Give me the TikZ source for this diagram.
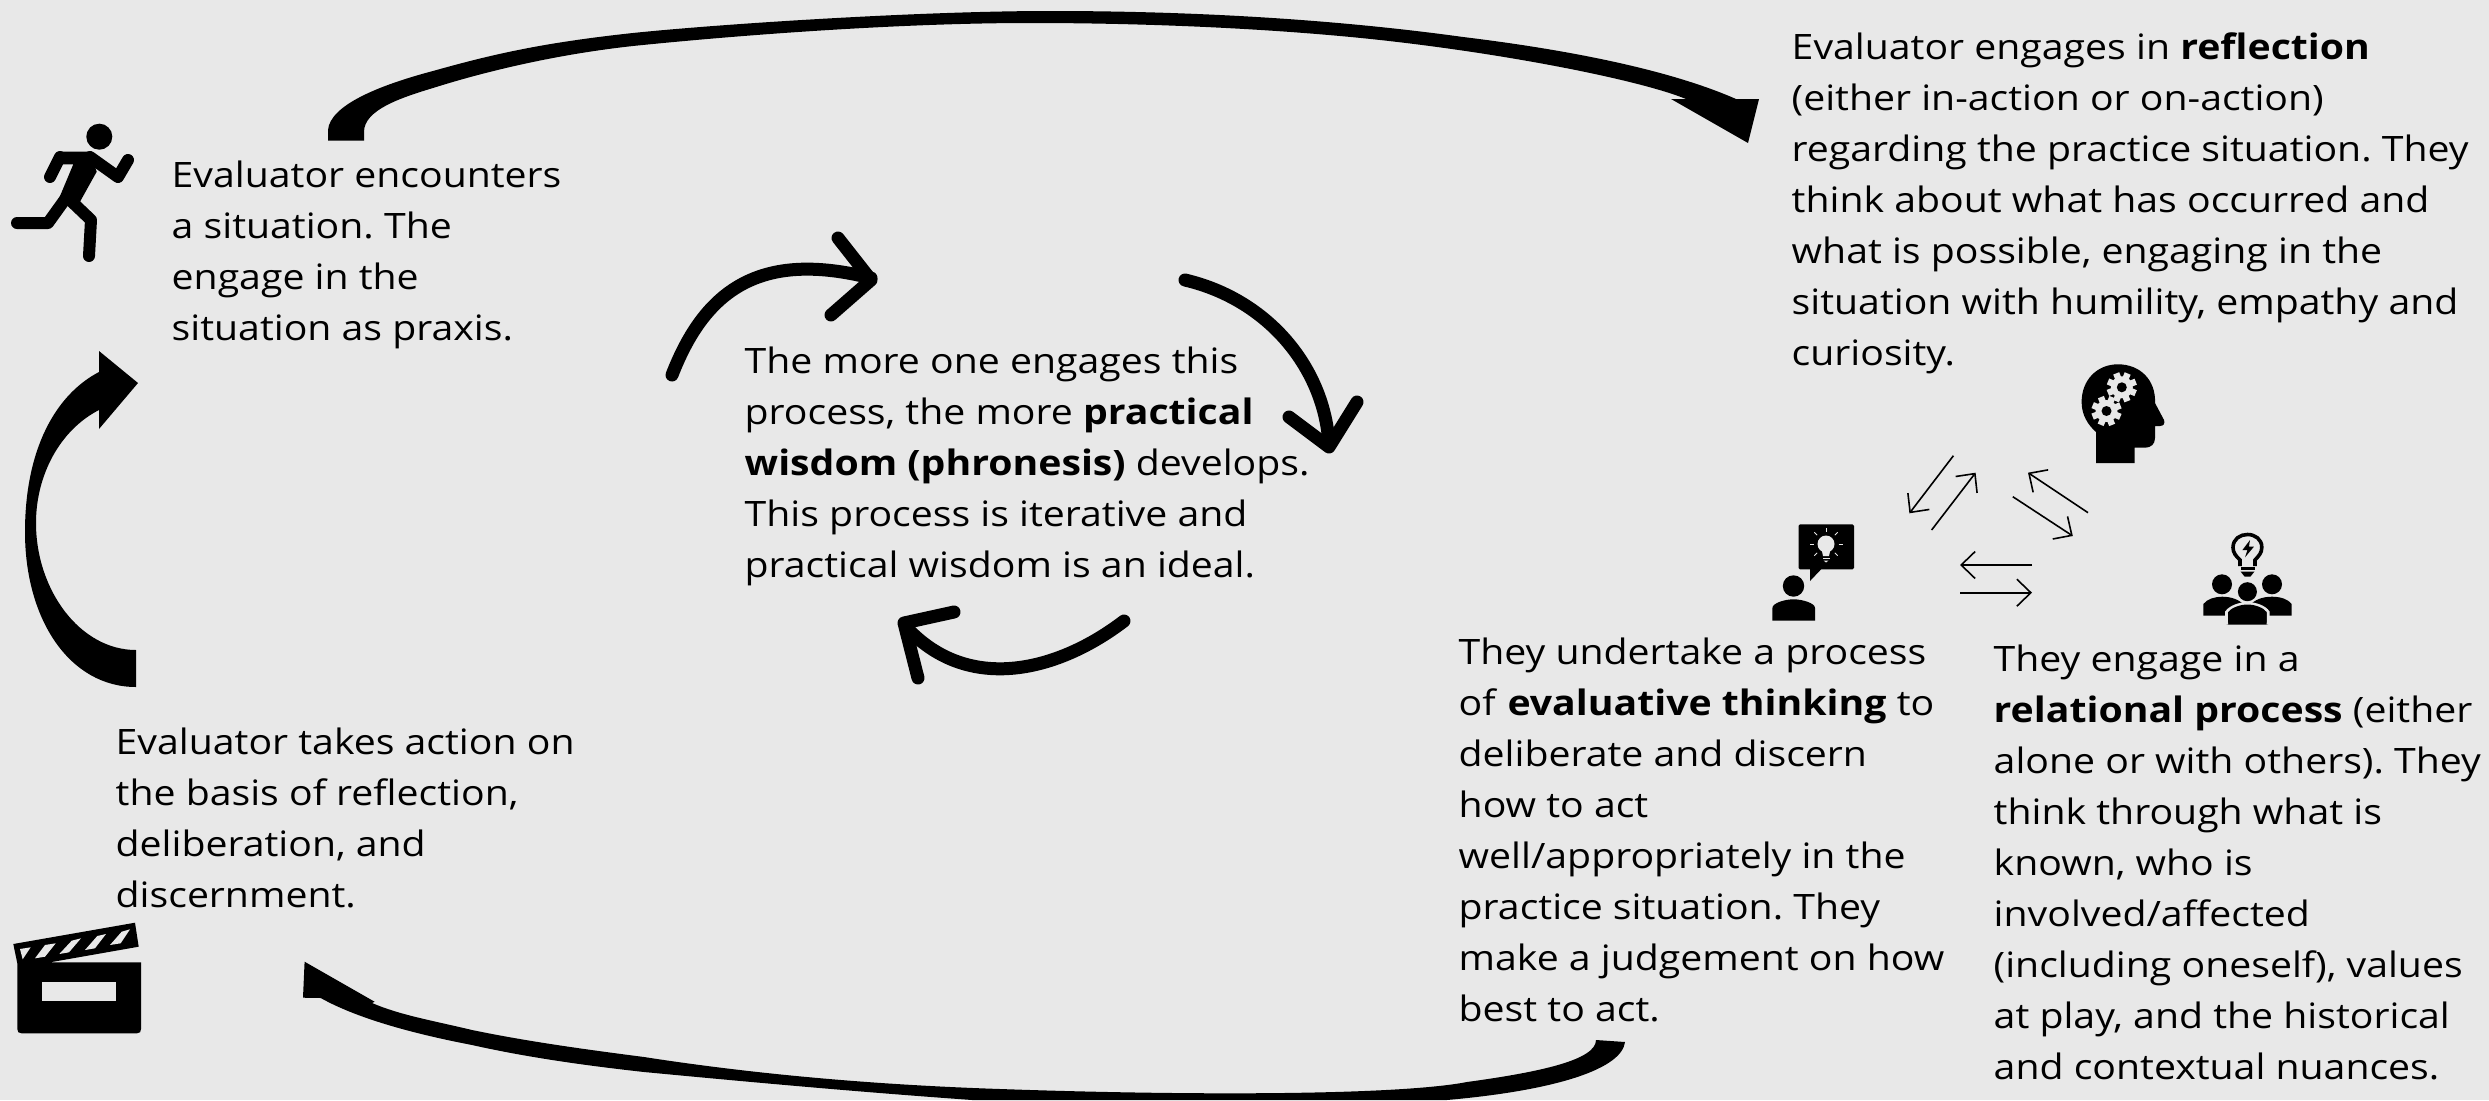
\documentclass[tikz,border=0pt]{standalone}
\usepackage{fontspec}
\usetikzlibrary{arrows.meta}
\setmainfont[FakeStretch=1.12]{Open Sans}
\definecolor{bgc}{HTML}{E8E8E8}
\tikzset{
  txt/.style={anchor=base west,inner sep=0pt,align=left,font=\fontsize{35}{51}\selectfont\frenchspacing},
  midarrow/.style={draw=black,line width=13pt,line cap=round,line join=round},
  thinarrow/.style={draw=black,line width=1.6pt,-{Straight Barb[length=14pt,width=27pt,line width=1.6pt]}},
  limb/.style={draw=black,line width=12pt,line cap=round,line join=round},
}
\newcommand{\gearicon}[2]{%
  \fill[bgc] (#1,#2) circle (11pt);
  \foreach \a in {0,45,...,315}{\fill[bgc,rotate around={\a+22:(#1,#2)}] (#1-3.2,#2-15) rectangle (#1+3.2,#2);}
  \fill[black] (#1,#2) circle (5pt);}
\begin{document}
\begin{tikzpicture}[x=1pt,y=-1pt]
\fill[bgc] (0,0) rectangle (2489,1100);
\useasboundingbox (0,0) rectangle (2489,1100);
% text
\node[txt] (encounter) at (171.5,340) {Evaluator encounters\\a situation. The\\engage in the\\situation as praxis.};
\node[txt] (action) at (115.5,907.5) {Evaluator takes action on\\the basis of reflection,\\deliberation, and\\discernment.};
\node[txt] (wisdom) at (744.5,577.5) {The more one engages this\\process, the more \textbf{practical}\\\textbf{wisdom (phronesis)} develops.\\This process is iterative and\\practical wisdom is an ideal.};
\node[txt] (reflect) at (1791.5,365.5) {Evaluator engages in \textbf{reflection}\\(either in-action or on-action)\\regarding the practice situation. They\\think about what has occurred and\\what is possible, engaging in the\\situation with humility, empathy and\\curiosity.};
\node[txt] (think) at (1458.5,1021) {They undertake a process\\of \textbf{evaluative thinking} to\\deliberate and discern\\how to act\\well/appropriately in the\\practice situation. They\\make a judgement on how\\best to act.};
\node[txt] (relate) at (1993.5,1079) {They engage in a\\\textbf{relational process} (either\\alone or with others). They\\think through what is\\known, who is\\involved/affected\\(including oneself), values\\at play, and the historical\\and contextual nuances.};
% top arrow
\fill[black] (328,140.5) -- (328,130) .. controls (330,105) and (380,85) .. (433,71)
  .. controls (490,55) and (540,43) .. (633,33)
  .. controls (720,24) and (920,11) .. (1050,11)
  .. controls (1200,11) and (1340,20) .. (1463,37)
  .. controls (1570,50) and (1670,70) .. (1736,99)
  -- (1759,99) -- (1748,143) -- (1671,99) -- (1686,99)
  .. controls (1640,80) and (1500,52) .. (1361,38)
  .. controls (1250,27) and (1130,23) .. (1030,23)
  .. controls (900,23) and (740,35) .. (633,46)
  .. controls (560,54) and (490,70) .. (433,88)
  .. controls (400,98) and (364,110) .. (364,132)
  -- (364,140.5) -- cycle;
% left arrow
\fill[black] (136,687) .. controls (70,687) and (25,620) .. (25,532)
  .. controls (25,450) and (55,395) .. (99,372)
  -- (99,351) -- (138,383) -- (99,429) -- (99,410)
  .. controls (60,430) and (36,475) .. (36,523)
  .. controls (36,590) and (80,650) .. (136,650) -- cycle;
% bottom arrow
\fill[black] (1596,1040) -- (1625,1042) .. controls (1622,1068) and (1560,1090) .. (1447,1100)
  -- (972,1100) .. controls (860,1092) and (760,1083) .. (644,1072)
  .. controls (590,1066) and (530,1058) .. (472,1045)
  .. controls (420,1035) and (360,1020) .. (320.7,998)
  -- (303,997.7) -- (304.6,961.7) -- (374.6,1001.7) -- (372,1003)
  .. controls (400,1015) and (430,1020) .. (472,1030)
  .. controls (530,1042) and (590,1050) .. (644,1057)
  .. controls (760,1075) and (880,1085) .. (1000,1089)
  .. controls (1200,1096) and (1400,1095) .. (1467,1082)
  .. controls (1540,1072) and (1596,1060) .. (1596,1040) -- cycle;
% centre cycle
\path[midarrow] (672,375) .. controls (705,290) and (760,250) .. (871,278);
\path[midarrow] (838,238) -- (871,280) -- (831,315);
\path[midarrow] (1185,280) .. controls (1270,300) and (1325,370) .. (1329,445);
\path[midarrow] (1289,417) -- (1329,447) -- (1357,402);
\path[midarrow] (1124,621) .. controls (1060,670) and (970,695) .. (907,628);
\path[midarrow] (954,612) -- (904,623) -- (918,678);
% thin arrows
\coordinate (t1s) at (1953.4,455.7); \coordinate (t1e) at (1909.4,513.3);
\coordinate (t2s) at (1931.6,530);   \coordinate (t2e) at (1975.6,472.7);
\coordinate (t3s) at (2088,512.7);   \coordinate (t3e) at (2028,472.7);
\coordinate (t4s) at (2012.8,496.7); \coordinate (t4e) at (2072.8,536);
\coordinate (t5s) at (2032,565);     \coordinate (t5e) at (1960,565);
\coordinate (t6s) at (1960,592.7);   \coordinate (t6e) at (2032,592.7);
\foreach \n in {1,...,6}{\draw[thinarrow] (t\n s) -- (t\n e);}
% runner
\fill[black] (99.3,136.7) circle (13pt);
\fill[black] (60,151.7) -- (90,151.7) -- (96.7,171.7) -- (80,201.7) -- (66.7,206) -- (50,220) -- (73.3,164.3) -- (58,164.3) -- cycle;
\path[limb] (60,157) -- (50,177);
\path[limb] (90,157) -- (118,177) -- (128,160);
\path[limb] (66,198) -- (48,223) -- (17,223);
\path[limb] (70,200) -- (91,220) -- (89,256);
% clapper
\fill[black] (13.3,944) -- (135,922.7) -- (138.7,946.7) -- (50,962.3) -- (141,962.3) -- (141,1029) .. controls (141,1032) and (140,1033.3) .. (137,1033.3)
  -- (21.6,1033.3) .. controls (18.6,1033.3) and (17.3,1032) .. (17.3,1029) -- (17.3,963.3) -- cycle;
\fill[bgc] (42.3,982.3) rectangle (116.3,1001);
\fill[bgc] (20,949) -- (30.7,947.3) -- (22.7,959.3) -- cycle;
\fill[bgc] (35,958.3) -- (45,945) -- (55.7,943.3) -- (45,956.7) -- cycle;
\fill[bgc] (59.3,954) -- (71.7,940.7) -- (81,938.3) -- (69,952.3) -- cycle;
\fill[bgc] (85,950) -- (97.3,936) -- (106,934) -- (95,948.3) -- cycle;
\fill[bgc] (110,945) -- (121.7,931.7) -- (130,929.3) -- (120.7,943.3) -- cycle;
% head with gears
\fill[black] (2096,463) -- (2134.5,463) -- (2134.5,447.7) -- (2145,447.7) .. controls (2151,447.7) and (2155,444) .. (2155,438) -- (2155,426) -- (2160,426) .. controls (2164,426) and (2165,423) .. (2164,420) -- (2155,403)
  .. controls (2156,380) and (2140,364.3) .. (2118,364.3) .. controls (2097,364.3) and (2081.6,380) .. (2081.6,402)
  .. controls (2081.6,415) and (2088,425) .. (2096,432) -- cycle;
\gearicon{2121.8}{387.3}
\gearicon{2106.5}{411}
% person with speech bubble
\fill[black,rounded corners=1.5pt] (1798.5,524.3) rectangle (1854,569.3);
\fill[black] (1810,569) -- (1810,581) -- (1821.4,569) -- cycle;
\fill[bgc] (1826,544) circle (8.5pt);
\fill[bgc] (1821.5,549) -- (1830.5,549) -- (1829,556) -- (1823,556) -- cycle;
\fill[bgc] (1822.5,557.5) rectangle (1829.5,559);
\fill[bgc] (1823.5,560.5) -- (1828.5,560.5) -- (1826,562.5) -- cycle;
\foreach \a in {0,45,180,135,225,270,315}{\draw[bgc,line width=0.8pt] (1826,544) ++(\a:12.5) -- ++(\a:4);}
\fill[black] (1793.5,586) circle (10.7pt);
\fill[black] (1772.4,620.7) -- (1772.4,608) .. controls (1772.4,603) and (1785,599.3) .. (1793.5,599.3) .. controls (1802,599.3) and (1815,603) .. (1815,608) -- (1815,620.7) -- cycle;
% group with bulb
\draw[black,line width=3.6pt,fill=bgc] (2240,566) -- (2240,560) .. controls (2236,556) and (2233,553) .. (2233,547.5) .. controls (2233,539) and (2240,534.5) .. (2247.4,534.5) .. controls (2255,534.5) and (2261.8,539) .. (2261.8,547.5) .. controls (2261.8,553) and (2258.5,556) .. (2255,560) -- (2255,566);
\fill[black] (2250,540) -- (2242.4,550) -- (2247.4,550) -- (2245,557.3) -- (2253.9,546.7) -- (2248.9,546.7) -- cycle;
\fill[black] (2240.5,566.5) rectangle (2254.5,570);
\fill[black] (2240.5,571.5) -- (2254.5,571.5) -- (2250.5,576.5) -- (2244.5,576.5) -- cycle;
\fill[black] (2222,584.3) circle (10pt);
\fill[black] (2272,584.3) circle (10pt);
\fill[black] (2203.4,615.7) -- (2203.4,604) .. controls (2207,599) and (2215,596.7) .. (2222,596.7) .. controls (2232,596.7) and (2240,600) .. (2245,606) -- (2230,615.7) -- cycle;
\fill[black] (2291.7,615.7) -- (2291.7,604) .. controls (2288,599) and (2280,596.7) .. (2272,596.7) .. controls (2262,596.7) and (2254,600) .. (2249,606) -- (2264,615.7) -- cycle;
\draw[bgc,line width=3pt,fill=black] (2226.7,624.5) -- (2226.7,612) .. controls (2230,607) and (2240,603.5) .. (2247.4,603.5) .. controls (2255,603.5) and (2265,607) .. (2268,612) -- (2268,624.5);
\fill[black] (2228.2,612) .. controls (2231,608) and (2240,604.5) .. (2247.4,604.5) .. controls (2255,604.5) and (2264,608) .. (2266.5,612) -- (2266.5,622.7) -- (2228.2,622.7) -- cycle;
\fill[black] (2247.4,591.7) circle (9.5pt);
\end{tikzpicture}
\end{document}
